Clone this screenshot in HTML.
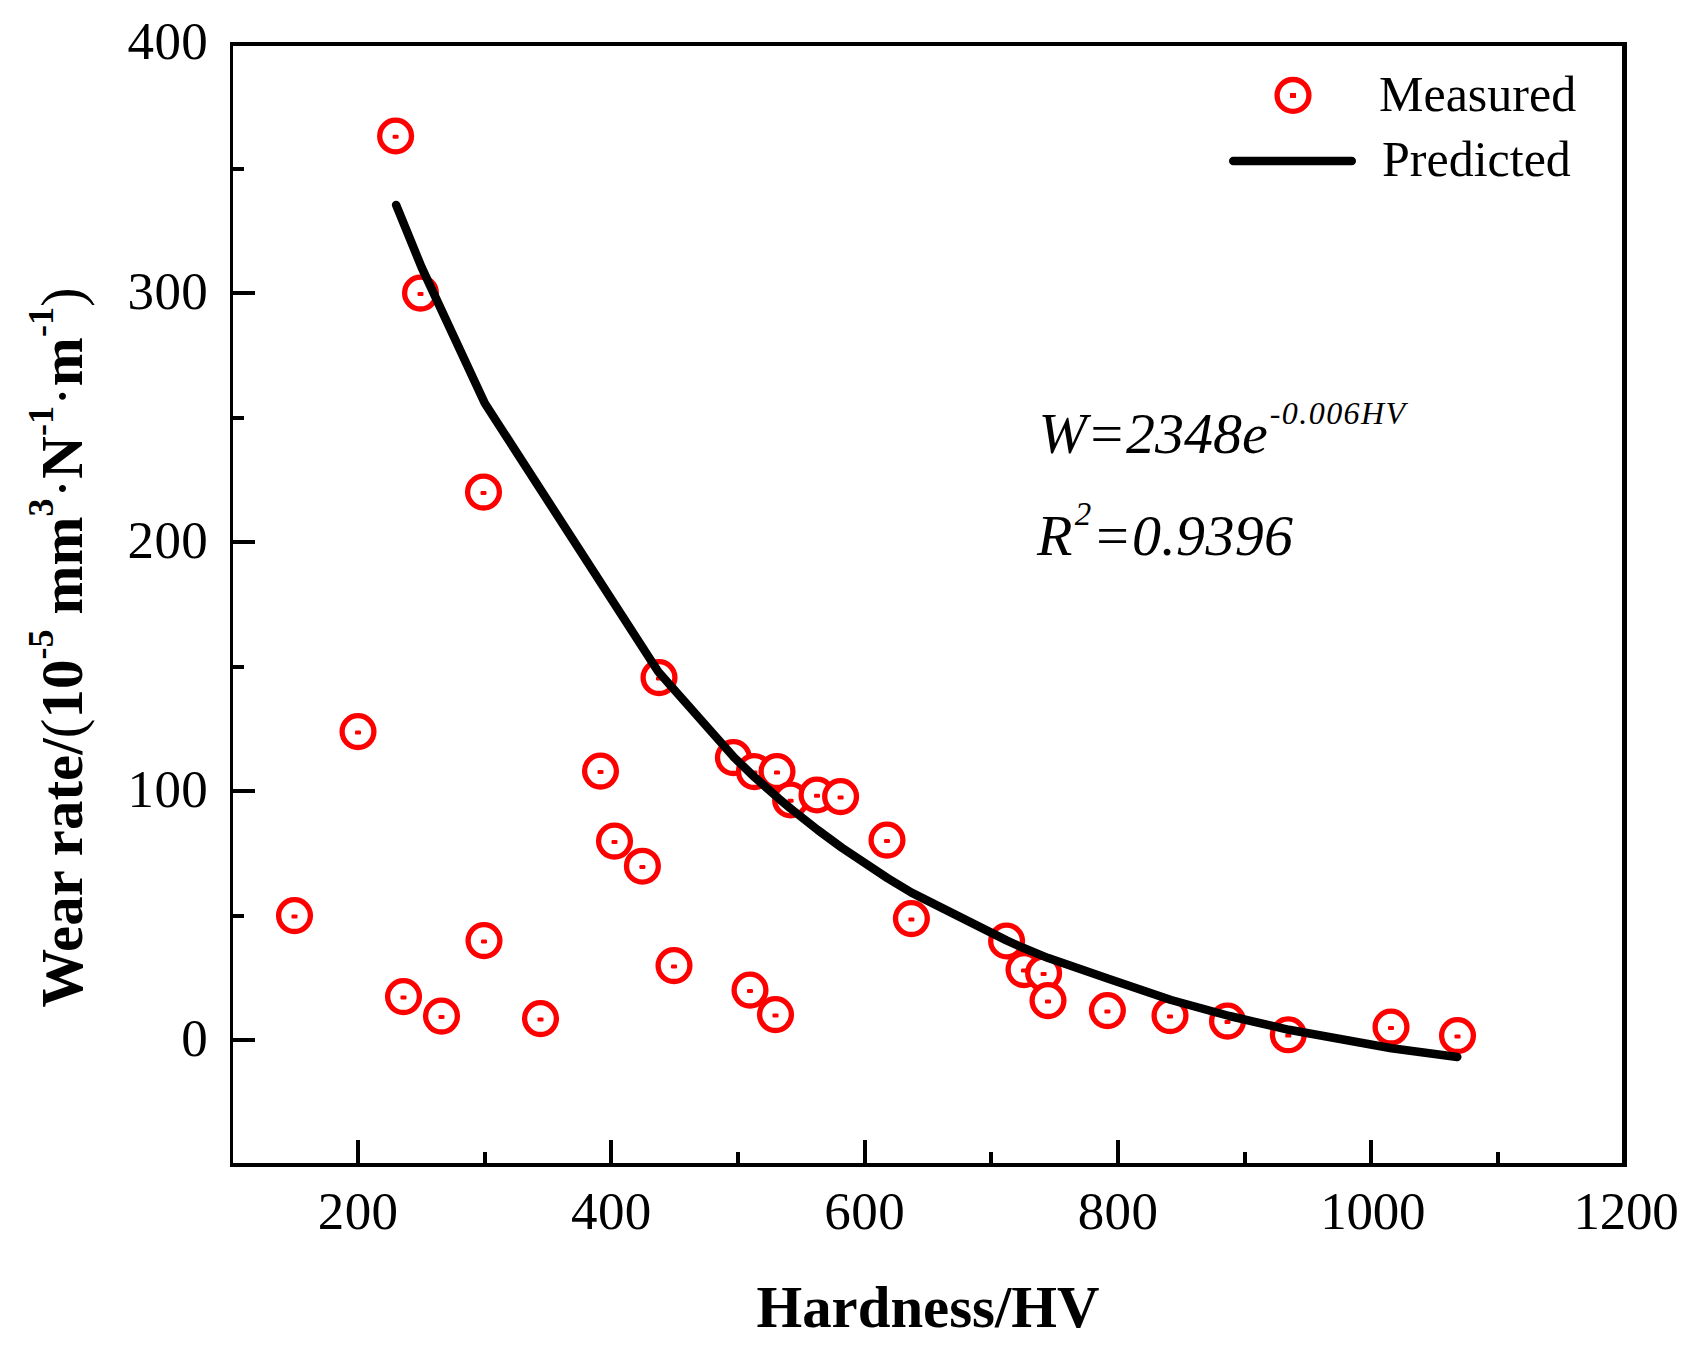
<!DOCTYPE html>
<html lang="en">
<head>
<meta charset="utf-8">
<title>Wear rate vs Hardness</title>
<style>
html,body{margin:0;padding:0;background:#fff;}
body{width:1704px;height:1350px;overflow:hidden;}
svg{display:block;}
text{font-family:"Liberation Serif","Times New Roman",serif;fill:#000;}
.tick{font-size:53px;letter-spacing:0.4px;}
.ttl{font-size:58.8px;font-weight:bold;}
.eq{font-size:58px;font-style:italic;}
.leg{font-size:50px;}
</style>
</head>
<body>
<svg width="1704" height="1350" viewBox="0 0 1704 1350">
<rect x="0" y="0" width="1704" height="1350" fill="#fff"/>
<g fill="#000" shape-rendering="crispEdges">
<rect x="230" y="42" width="3" height="1125"/>
<rect x="1622" y="42" width="5" height="1125"/>
<rect x="230" y="42" width="1397" height="4"/>
<rect x="230" y="1163" width="1397" height="4"/>
<rect x="356" y="1140" width="4" height="23"/>
<rect x="483" y="1152" width="4" height="11"/>
<rect x="609" y="1140" width="4" height="23"/>
<rect x="736" y="1152" width="4" height="11"/>
<rect x="863" y="1140" width="4" height="23"/>
<rect x="989" y="1152" width="4" height="11"/>
<rect x="1116" y="1140" width="4" height="23"/>
<rect x="1243" y="1152" width="4" height="11"/>
<rect x="1369" y="1140" width="4" height="23"/>
<rect x="1496" y="1152" width="4" height="11"/>
<rect x="233" y="1038" width="22" height="4"/>
<rect x="233" y="914" width="11" height="4"/>
<rect x="233" y="789" width="22" height="4"/>
<rect x="233" y="665" width="11" height="4"/>
<rect x="233" y="540" width="22" height="4"/>
<rect x="233" y="416" width="11" height="4"/>
<rect x="233" y="291" width="22" height="4"/>
<rect x="233" y="167" width="11" height="4"/>
</g>
<g class="tick" text-anchor="middle">
<text x="358.1" y="1229">200</text>
<text x="611.4" y="1229">400</text>
<text x="864.7" y="1229">600</text>
<text x="1118.0" y="1229">800</text>
<text x="1372.7" y="1229" style="letter-spacing:-0.3px">1000</text>
<text x="1626.0" y="1229" style="letter-spacing:-0.3px">1200</text>
</g>
<g class="tick" text-anchor="end">
<text x="208.2" y="1055.8">0</text>
<text x="208.2" y="806.7">100</text>
<text x="208.2" y="557.6">200</text>
<text x="208.2" y="308.5">300</text>
<text x="208.2" y="59.4">400</text>
</g>
<g fill="#fff" stroke="#ff0000" stroke-width="5.3">
<circle cx="294.5" cy="915.6" r="15.9"/><rect x="291.5" y="914.4" width="6" height="4" rx="1.2" stroke="none" fill="#ff0000"/>
<circle cx="358" cy="731.6" r="15.9"/><rect x="355" y="730.4" width="6" height="4" rx="1.2" stroke="none" fill="#ff0000"/>
<circle cx="395.6" cy="136.0" r="15.9"/><rect x="392.6" y="134.8" width="6" height="4" rx="1.2" stroke="none" fill="#ff0000"/>
<circle cx="403.5" cy="996.6" r="15.9"/><rect x="400.5" y="995.4" width="6" height="4" rx="1.2" stroke="none" fill="#ff0000"/>
<circle cx="420.5" cy="293.1" r="15.9"/><rect x="417.5" y="291.90000000000003" width="6" height="4" rx="1.2" stroke="none" fill="#ff0000"/>
<circle cx="441.5" cy="1016.1" r="15.9"/><rect x="438.5" y="1014.9" width="6" height="4" rx="1.2" stroke="none" fill="#ff0000"/>
<circle cx="483.5" cy="492.1" r="15.9"/><rect x="480.5" y="490.90000000000003" width="6" height="4" rx="1.2" stroke="none" fill="#ff0000"/>
<circle cx="484" cy="940.6" r="15.9"/><rect x="481" y="939.4" width="6" height="4" rx="1.2" stroke="none" fill="#ff0000"/>
<circle cx="540.5" cy="1018.6" r="15.9"/><rect x="537.5" y="1017.4" width="6" height="4" rx="1.2" stroke="none" fill="#ff0000"/>
<circle cx="600.5" cy="771.1" r="15.9"/><rect x="597.5" y="769.9" width="6" height="4" rx="1.2" stroke="none" fill="#ff0000"/>
<circle cx="614.5" cy="841.1" r="15.9"/><rect x="611.5" y="839.9" width="6" height="4" rx="1.2" stroke="none" fill="#ff0000"/>
<circle cx="642.4" cy="866.2" r="15.9"/><rect x="639.4" y="865.0" width="6" height="4" rx="1.2" stroke="none" fill="#ff0000"/>
<circle cx="659" cy="677.6" r="15.9"/><rect x="656" y="676.4" width="6" height="4" rx="1.2" stroke="none" fill="#ff0000"/>
<circle cx="674" cy="965.6" r="15.9"/><rect x="671" y="964.4" width="6" height="4" rx="1.2" stroke="none" fill="#ff0000"/>
<circle cx="733.4" cy="757.6" r="15.9"/><rect x="730.4" y="756.4" width="6" height="4" rx="1.2" stroke="none" fill="#ff0000"/>
<circle cx="750" cy="990.1" r="15.9"/><rect x="747" y="988.9" width="6" height="4" rx="1.2" stroke="none" fill="#ff0000"/>
<circle cx="754.4" cy="771.6" r="15.9"/><rect x="751.4" y="770.4" width="6" height="4" rx="1.2" stroke="none" fill="#ff0000"/>
<circle cx="775.5" cy="1014.6" r="15.9"/><rect x="772.5" y="1013.4" width="6" height="4" rx="1.2" stroke="none" fill="#ff0000"/>
<circle cx="777" cy="771.6" r="15.9"/><rect x="774" y="770.4" width="6" height="4" rx="1.2" stroke="none" fill="#ff0000"/>
<circle cx="790.6" cy="800.0" r="15.9"/><rect x="787.6" y="798.8" width="6" height="4" rx="1.2" stroke="none" fill="#ff0000"/>
<circle cx="817" cy="795.0" r="15.9"/><rect x="814" y="793.8" width="6" height="4" rx="1.2" stroke="none" fill="#ff0000"/>
<circle cx="840.6" cy="796.6" r="15.9"/><rect x="837.6" y="795.4" width="6" height="4" rx="1.2" stroke="none" fill="#ff0000"/>
<circle cx="887" cy="840.1" r="15.9"/><rect x="884" y="838.9" width="6" height="4" rx="1.2" stroke="none" fill="#ff0000"/>
<circle cx="911.4" cy="918.6" r="15.9"/><rect x="908.4" y="917.4" width="6" height="4" rx="1.2" stroke="none" fill="#ff0000"/>
<circle cx="1006.6" cy="941.0" r="15.9"/><rect x="1003.6" y="939.8" width="6" height="4" rx="1.2" stroke="none" fill="#ff0000"/>
<circle cx="1024" cy="969.6" r="15.9"/><rect x="1021" y="968.4" width="6" height="4" rx="1.2" stroke="none" fill="#ff0000"/>
<circle cx="1043.6" cy="973.1" r="15.9"/><rect x="1040.6" y="971.9" width="6" height="4" rx="1.2" stroke="none" fill="#ff0000"/>
<circle cx="1048" cy="1000.6" r="15.9"/><rect x="1045" y="999.4" width="6" height="4" rx="1.2" stroke="none" fill="#ff0000"/>
<circle cx="1107.4" cy="1010.6" r="15.9"/><rect x="1104.4" y="1009.4" width="6" height="4" rx="1.2" stroke="none" fill="#ff0000"/>
<circle cx="1170" cy="1015.6" r="15.9"/><rect x="1167" y="1014.4" width="6" height="4" rx="1.2" stroke="none" fill="#ff0000"/>
<circle cx="1227.5" cy="1021.1" r="15.9"/><rect x="1224.5" y="1019.9" width="6" height="4" rx="1.2" stroke="none" fill="#ff0000"/>
<circle cx="1288.3" cy="1034.8" r="15.9"/><rect x="1285.3" y="1033.6" width="6" height="4" rx="1.2" stroke="none" fill="#ff0000"/>
<circle cx="1391" cy="1027.1" r="15.9"/><rect x="1388" y="1025.8999999999999" width="6" height="4" rx="1.2" stroke="none" fill="#ff0000"/>
<circle cx="1457.5" cy="1035.6" r="15.9"/><rect x="1454.5" y="1034.3999999999999" width="6" height="4" rx="1.2" stroke="none" fill="#ff0000"/>
</g>
<path d="M396.1,204.9 L421.5,267.1 L484.8,403.2 L658.3,671.8 L734.2,757.5 L754.5,777.1 L778.6,798.4 L791.2,809.0 L817.8,830.0 L841.9,847.7 L887.5,878.1 L911.5,892.6 L1006.5,940.4 L1023.0,947.8 L1044.5,956.6 L1048.3,958.1 L1109.1,978.9 L1171.1,1000.0 L1229.4,1016.0 L1288.9,1029.8 L1391.5,1048.3 L1457.3,1057.0" fill="none" stroke="#000" stroke-width="8.5" stroke-linecap="round" stroke-linejoin="round"/>
<circle cx="1293" cy="95.4" r="15.9" fill="none" stroke="#ff0000" stroke-width="5.3"/>
<rect x="1290" y="93" width="6" height="5" fill="#ff0000"/>
<line x1="1233.25" y1="160.9" x2="1351.75" y2="160.9" stroke="#000" stroke-width="8.5" stroke-linecap="round"/>
<text class="leg" x="1379" y="111">Measured</text>
<text class="leg" x="1382" y="176">Predicted</text>
<text class="eq" x="1038.5" y="453">W=2348e<tspan font-size="32" dy="-28.6" dx="2" letter-spacing="1.45">-0.006HV</tspan></text>
<text class="eq" x="1037" y="555" letter-spacing="0.3">R<tspan font-size="33" dy="-30" dx="2">2</tspan><tspan dy="30" dx="1">=0.9396</tspan></text>
<text class="ttl" x="928" y="1327" text-anchor="middle">Hardness/HV</text>
<text class="ttl" transform="translate(82.4,1007.6) rotate(-90)" x="0" y="0" letter-spacing="0.1">Wear rate/<tspan font-weight="normal">(</tspan>10<tspan font-size="36" dy="-29">-5</tspan><tspan dy="29"> mm</tspan><tspan font-size="36" dy="-29">3</tspan><tspan dy="29" font-weight="normal">·</tspan>N<tspan font-size="36" dy="-29">-1</tspan><tspan dy="29" font-weight="normal">·</tspan>m<tspan font-size="36" dy="-29">-1</tspan><tspan dy="29" font-weight="normal">)</tspan></text>
</svg>
</body>
</html>
